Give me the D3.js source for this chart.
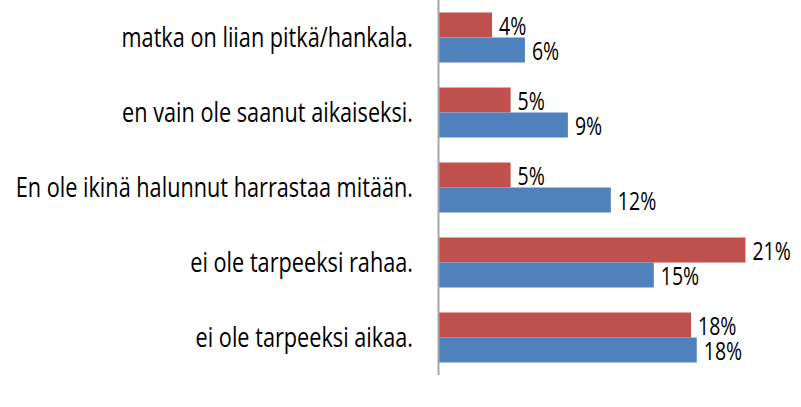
<!DOCTYPE html>
<html lang="fi">
<head>
<meta charset="UTF-8">
<script src="https://cdn.jsdelivr.net/npm/d3@7"></script>
<style>
  html, body { margin: 0; padding: 0; background: #fff; }
  svg { display: block; }
  text { font-family: "Open Sans", "DejaVu Sans", sans-serif; fill: #000; }
</style>
</head>
<body>
<div id="chart"></div>
<script>
// kategoriat ylhäältä alas
var categories = [
  "matka on liian pitkä/hankala.",
  "en vain ole saanut aikaiseksi.",
  "En ole ikinä halunnut harrastaa mitään.",
  "ei ole tarpeeksi rahaa.",
  "ei ole tarpeeksi aikaa."
];
var seriesNames = ["sarja1", "sarja2"];
var redValues = [3.7, 5.0, 5.0, 21.4, 17.6];
var blueValues = [6.0, 9.0, 12.0, 15.0, 18.0];
var colors = ["#C0504D", "#4F81BD"];

var width = 801, height = 407;
var axisX = 439, plotBottom = 375;

var svg = d3.select("#chart").append("svg")
  .attr("width", width)
  .attr("height", height);

var x = d3.scaleLinear().domain([0, 25]).range([axisX, 797]);

var y = d3.scaleBand()
  .domain(categories)
  .range([0, plotBottom])
  .paddingInner(1 / 3)
  .paddingOuter(1 / 6);

var ySub = d3.scaleBand()
  .domain(seriesNames)
  .range([0, y.bandwidth()]);

var rows = categories.map(function(c, i) {
  return { cat: c, vals: [redValues[i], blueValues[i]] };
});

var groups = svg.append("g").selectAll("g")
  .data(rows)
  .enter()
  .append("g")
  .attr("transform", d => "translate(0," + y(d.cat) + ")");

groups.selectAll("rect")
  .data(d => d.vals.map((v, j) => ({ v: v, s: seriesNames[j], c: colors[j] })))
  .enter()
  .append("rect")
  .attr("x", x(0))
  .attr("y", d => ySub(d.s))
  .attr("width", d => x(d.v) - x(0))
  .attr("height", ySub.bandwidth())
  .attr("fill", d => d.c);

// arvojen tekstit, vaakasuunnassa kavennettu
groups.selectAll("g.lbl")
  .data(d => d.vals.map((v, j) => ({ v: v, s: seriesNames[j] })))
  .enter()
  .append("g")
  .attr("class", "lbl")
  .attr("transform", d => "translate(" + (x(d.v) + 7) + "," + (ySub(d.s) + ySub.bandwidth() / 2 + 10) + ") scale(0.78,1)")
  .append("text")
  .attr("font-size", 25)
  .text(d => Math.round(d.v) + "%");

// akseliviiva
svg.append("line")
  .attr("x1", axisX - 0.5).attr("x2", axisX - 0.5)
  .attr("y1", 0).attr("y2", plotBottom)
  .attr("stroke", "#a6a6a6")
  .attr("stroke-width", 2);

// kategorioiden nimet
svg.append("g").selectAll("g")
  .data(categories)
  .enter()
  .append("g")
  .attr("transform", d => "translate(413," + (y(d) + y.bandwidth() / 2 + 9) + ") scale(0.775,1)")
  .append("text")
  .attr("text-anchor", "end")
  .attr("font-size", 28)
  .text(d => d);
</script>
</body>
</html>
